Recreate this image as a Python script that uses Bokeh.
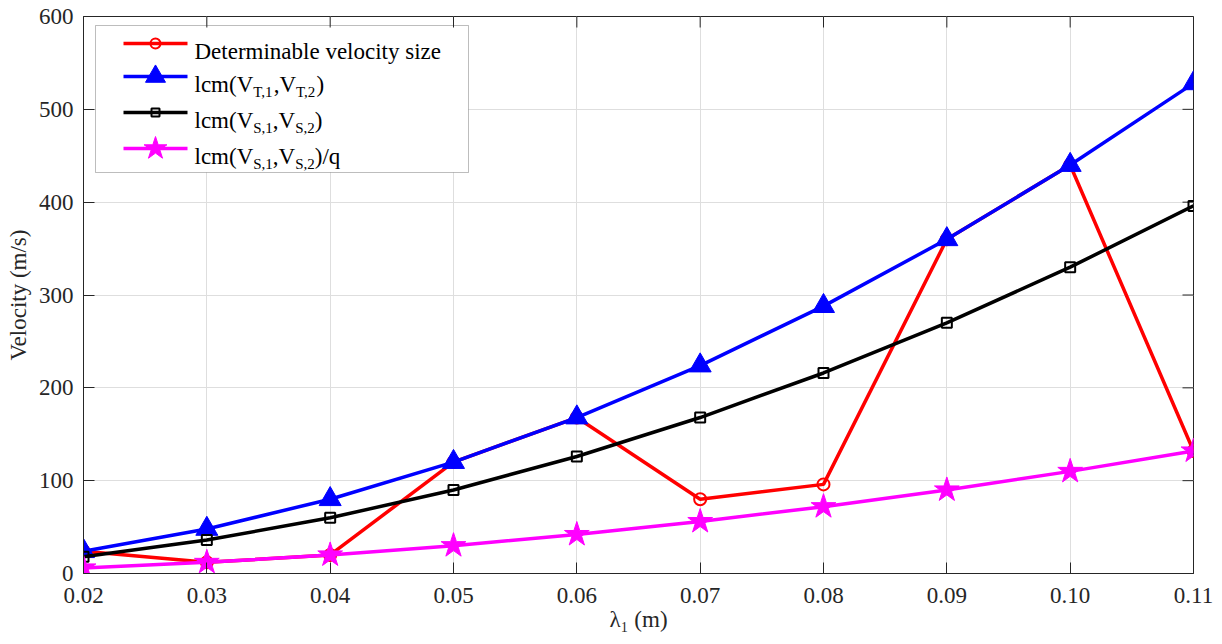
from bokeh.plotting import figure
from bokeh.models import Range1d, FixedTicker, Label, BoxAnnotation, CustomJSTickFormatter
from bokeh.embed import file_html
from bokeh.resources import INLINE

# ---- data ----
lam = [0.02, 0.03, 0.04, 0.05, 0.06, 0.07, 0.08, 0.09, 0.10, 0.11]
det_velocity = [24, 12, 20, 120, 168, 80, 96, 360, 440, 132]
lcm_t = [24, 48, 80, 120, 168, 224, 288, 360, 440, 528]
lcm_s = [18, 36, 60, 90, 126, 168, 216, 270, 330, 396]
lcm_s_q = [6, 12, 20, 30, 42, 56, 72, 90, 110, 132]
x_ticks = [0.02, 0.03, 0.04, 0.05, 0.06, 0.07, 0.08, 0.09, 0.10, 0.11]
x_tick_labels = ["0.02", "0.03", "0.04", "0.05", "0.06", "0.07", "0.08", "0.09", "0.10", "0.11"]
y_ticks = [0, 100, 200, 300, 400, 500, 600]

XMIN, XMAX, YMIN, YMAX = 0.02, 0.11, 0, 600
FONT = "Liberation Serif"
DARK = "#262626"

# frame in page pixels (figure sits at page origin)
PX0, PX1, PY0, PY1 = 83, 1193, 16, 573
W = 1214
H = 642


def dx(px):
    return XMIN + (px - PX0) / (PX1 - PX0) * (XMAX - XMIN)


def dy(py):
    return YMIN + (PY1 - py) / (PY1 - PY0) * (YMAX - YMIN)


p = figure(width=W, height=H, output_backend="svg", toolbar_location=None,
           x_range=Range1d(XMIN, XMAX), y_range=Range1d(YMIN, YMAX),
           min_border_left=PX0, min_border_top=PY0,
           min_border_right=W - PX1, min_border_bottom=H - PY1)
p.background_fill_color = "white"
p.border_fill_color = "white"
p.outline_line_color = DARK
p.outline_line_width = 1

xt = FixedTicker(ticks=x_ticks)
yt = FixedTicker(ticks=y_ticks)
fmt = CustomJSTickFormatter(args=dict(t=x_ticks, l=x_tick_labels), code="""
for (let i = 0; i < t.length; i++) { if (Math.abs(t[i] - tick) < 1e-9) return l[i]; }
return tick.toFixed(2);
""")

for ax, tk in ((p.xaxis[0], xt), (p.yaxis[0], yt)):
    ax.ticker = tk
    ax.major_tick_in = 11
    ax.major_tick_out = 0
    ax.minor_tick_line_color = None
    ax.axis_line_color = DARK
    ax.major_tick_line_color = DARK
    ax.major_label_text_font = FONT
    ax.major_label_text_font_size = "23px"
    ax.major_label_text_color = DARK
    ax.axis_label_text_font = FONT
    ax.axis_label_text_font_size = "23px"
    ax.axis_label_text_font_style = "normal"
    ax.axis_label_text_color = DARK
p.xaxis[0].formatter = fmt
p.xaxis[0].major_label_standoff = 14
p.xaxis[0].axis_label = "λ₁ (m)"
p.xaxis[0].axis_label_standoff = 1
p.yaxis[0].major_label_standoff = 10
p.yaxis[0].axis_label = "Velocity (m/s)"
p.yaxis[0].axis_label_standoff = 5

p.xgrid.ticker = xt
p.ygrid.ticker = yt
p.grid.grid_line_color = "#dedede"
p.grid.grid_line_width = 1

# box ticks on top and right edges (11 px long, pointing inward)
tick_dy = 11 * (YMAX - YMIN) / (PY1 - PY0)
tick_dx = 11 * (XMAX - XMIN) / (PX1 - PX0)
p.segment(x0=x_ticks, y0=[YMAX] * len(x_ticks), x1=x_ticks, y1=[YMAX - tick_dy] * len(x_ticks),
          line_color=DARK, line_width=1)
p.segment(x0=[XMAX] * len(y_ticks), y0=y_ticks, x1=[XMAX - tick_dx] * len(y_ticks), y1=y_ticks,
          line_color=DARK, line_width=1)

LW = 3.5
RED, BLUE, BLACK, MAG = "#ff0000", "#0000ff", "#000000", "#ff00ff"

series = [
    (det_velocity, RED, "circle", 12, 2),
    (lcm_t, BLUE, "triangle", 22, 1),
    (lcm_s, BLACK, "square", 10, 2),
    (lcm_s_q, MAG, "star", 26, 1),
]


def draw_markers(xs, ys, col, mk, sz, mlw):
    if mk in ("circle", "square"):
        p.scatter(xs, ys, marker=mk, size=sz, line_color=col, line_width=mlw, fill_alpha=0)
    else:
        p.scatter(xs, ys, marker=mk, size=sz, line_color=col, fill_color=col)


for ys, col, mk, sz, mlw in series:
    p.line(lam, ys, line_color=col, line_width=LW)
    draw_markers(lam, ys, col, mk, sz, mlw)

# ---- legend (drawn manually for subscripts) ----
p.add_layout(BoxAnnotation(left=dx(95), right=dx(468), top=dy(25), bottom=dy(172),
                           fill_color="white", fill_alpha=1, line_color=DARK,
                           line_width=1, level="underlay"))

row_line_y = [43, 76, 112, 148]
TX = 194
MAIN, SUB = 23, 15
SUB_DROP = 7
WID = {"l": 278, "c": 444, "m": 778, "(": 333, ")": 333, "V": 722, "T": 611,
       "S": 556, ",": 250, "1": 500, "2": 500, "/": 278, "q": 500}


def tw(s, size):
    return sum(WID.get(ch, 500) for ch in s) * size / 1000.0


def add_text(txt, px, py, size, color="black"):
    p.add_layout(Label(x=dx(px), y=dy(py), text=txt, text_font=FONT,
                       text_font_size=f"{size}px", text_color=color,
                       text_baseline="alphabetic", text_align="left"))


def add_rich(parts, px, py):
    x = px
    for txt, sub in parts:
        if sub:
            add_text(txt, x, py + SUB_DROP, SUB)
            x += tw(txt, SUB)
        else:
            add_text(txt, x, py, MAIN)
            x += tw(txt, MAIN)


legend_rows = [
    [("Determinable velocity size", False)],
    [("lcm(V", False), ("T,1", True), (",V", False), ("T,2", True), (")", False)],
    [("lcm(V", False), ("S,1", True), (",V", False), ("S,2", True), (")", False)],
    [("lcm(V", False), ("S,1", True), (",V", False), ("S,2", True), (")/q", False)],
]
for (ys, col, mk, sz, mlw), ly, parts in zip(series, row_line_y, legend_rows):
    p.line([dx(123), dx(187)], [dy(ly), dy(ly)], line_color=col, line_width=LW)
    draw_markers([dx(155)], [dy(ly)], col, mk, sz - 2, mlw)
    add_rich(parts, TX, ly + 8)

open("out.html", "w").write(file_html(p, INLINE))
